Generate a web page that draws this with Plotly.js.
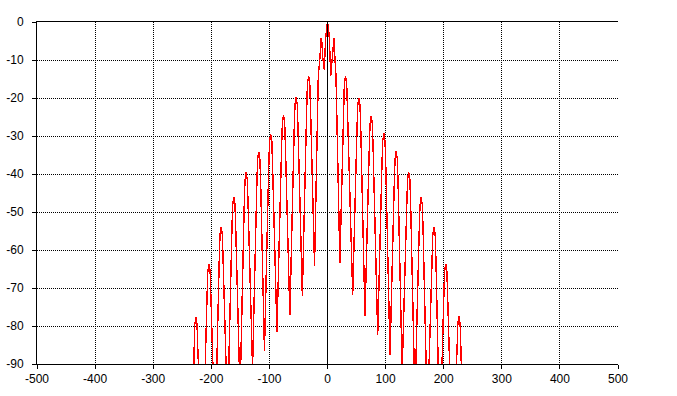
<!DOCTYPE html>
<html>
<head>
<meta charset="utf-8">
<script src="https://cdn.plot.ly/plotly-3.0.1.min.js"></script>
<style>
html,body{margin:0;padding:0;background:#fff;}
#chart{width:677px;height:396px;}
#chart .scatterlayer path.js-line{shape-rendering:crispEdges;}
#chart .gridlayer path, #chart .zerolinelayer path{shape-rendering:crispEdges;}
</style>
</head>
<body>
<div id="chart"></div>
<script>
const xLeft = [
  -236,
  -229.9, -228.5, -226.5, -224.5, -223.1,
  -215,
  -207.4, -206, -204, -202, -200.6,
  -193.5,
  -186.4, -185, -183, -181, -179.6,
  -172,
  -164.6, -163.2, -161.2, -159.2, -157.8,
  -150.5,
  -143.4, -142, -140, -138, -136.6,
  -129,
  -121.7, -120.3, -118.3, -116.3, -114.9,
  -108.5,
  -101.2, -99.8, -97.8, -95.8, -94.4,
  -87,
  -79.1, -77.7, -75.7, -73.7, -72.3,
  -64.8,
  -57.4, -56, -54, -52, -50.6,
  -43.3,
  -35.9, -34.5, -32.5, -30.5, -29.1,
  -22.3
];
const xCenter = [
  -15.8, -13, -11.2, -9.6, -8, -5.5, -3.2, -1.6, 0, 1.6, 3.2, 5.5, 8, 9.6, 11.2, 12.9, 14.6
];
const xRight = [
  21.3,
  27.6, 29, 31, 33, 34.4,
  43.4,
  50.6, 52, 54, 56, 57.4,
  64.5,
  71.8, 73.2, 75.2, 77.2, 78.6,
  86.4,
  93.6, 95, 97, 99, 100.4,
  107.6,
  114.8, 116.2, 118.2, 120.2, 121.6,
  128.5,
  136.4, 137.8, 139.8, 141.8, 143.2,
  150.5,
  157.8, 159.2, 161.2, 163.2, 164.6,
  172,
  179.9, 181.3, 183.3, 185.3, 186.7,
  193.5,
  200.1, 201.5, 203.5, 205.5, 206.9,
  215,
  222.9, 224.3, 226.3, 228.3, 229.7,
  236
];

// Level in dB at each of those positions
const dbLeft = [
  -128,
  -86.7, -79.7, -77.7, -79.7, -86.7,
  -116,
  -72.7, -65.7, -63.7, -65.7, -72.7,
  -110,
  -62.9, -55.9, -53.9, -55.9, -62.9,
  -104,
  -55.1, -48.1, -46.1, -48.1, -55.1,
  -98,
  -48.6, -41.6, -39.6, -41.6, -48.6,
  -91,
  -43.2, -36.2, -34.2, -36.2, -43.2,
  -86.5,
  -38.5, -31.5, -29.5, -31.5, -38.5,
  -81.5,
  -33.5, -26.5, -24.5, -26.5, -33.5,
  -77.2,
  -28.8, -21.8, -19.8, -21.8, -28.8,
  -72,
  -23.2, -16.2, -14.2, -16.2, -23.2,
  -64.2
];
const dbCenter = [
  -14, -9.5, -4.3, -5.5, -9.6, -12.5, -4.3, -1.5, 0, -1.5, -4.3, -14.3, -9.6, -5.5, -4.2, -9.9, -14
];
const dbRight = [
  -63.3,
  -23.2, -16.2, -14.2, -16.2, -23.2,
  -71.8,
  -29, -22, -20, -22, -29,
  -77.4,
  -33.8, -26.8, -24.8, -26.8, -33.8,
  -82.4,
  -38.3, -31.3, -29.3, -31.3, -38.3,
  -87.5,
  -43.1, -36.1, -34.1, -36.1, -43.1,
  -92,
  -48.5, -41.5, -39.5, -41.5, -48.5,
  -99,
  -55.2, -48.2, -46.2, -48.2, -55.2,
  -105,
  -62.9, -55.9, -53.9, -55.9, -62.9,
  -111,
  -72.7, -65.7, -63.7, -65.7, -72.7,
  -116,
  -86.5, -79.5, -77.5, -79.5, -86.5,
  -128
];

// Tick values and labels
const xTickVals = [-500, -400, -300, -200, -100, 0, 100, 200, 300, 400, 500];
const xTickText = ["-500", "-400", "-300", "-200", "-100", "0", "100", "200", "300", "400", "500"];
const yTickVals = [0, -10, -20, -30, -40, -50, -60, -70, -80, -90];
const yTickText = ["0", "-10", "-20", "-30", "-40", "-50", "-60", "-70", "-80", "-90"];

const xs = xLeft.concat(xCenter, xRight);
const ys = dbLeft.concat(dbCenter, dbRight);

const trace = {
  x: xs,
  y: ys,
  type: "scatter",
  mode: "lines",
  line: {color: "#ff0000", width: 1.4},
  hoverinfo: "skip"
};

const font = {family: "Liberation Sans, Arial, sans-serif", size: 12, color: "#000"};

const layout = {
  width: 677,
  height: 396,
  margin: {l: 37, r: 59, t: 22, b: 32, pad: 0},
  paper_bgcolor: "#ffffff",
  plot_bgcolor: "#ffffff",
  showlegend: false,
  font: font,
  xaxis: {
    range: [-500, 500],
    tickmode: "array",
    tickvals: xTickVals,
    ticktext: xTickText,
    showgrid: true,
    gridcolor: "#000000",
    gridwidth: 1,
    griddash: "1px,1px",
    zeroline: true,
    zerolinecolor: "#000000",
    zerolinewidth: 1,
    zerolinelayer: "above traces",
    showline: true,
    linecolor: "#000000",
    linewidth: 1,
    mirror: true,
    ticks: "outside",
    ticklen: 4,
    tickwidth: 1,
    tickcolor: "#000000",
    tickfont: font,
    fixedrange: true
  },
  yaxis: {
    range: [-90, 0],
    tickmode: "array",
    tickvals: yTickVals,
    ticktext: yTickText,
    showgrid: true,
    gridcolor: "#000000",
    gridwidth: 1,
    griddash: "1px,1px",
    zeroline: false,
    showline: true,
    linecolor: "#000000",
    linewidth: 1,
    mirror: false,
    ticks: "outside",
    ticklen: 4,
    tickwidth: 1,
    tickcolor: "#000000",
    tickfont: font,
    ticklabelstandoff: 6,
    fixedrange: true
  }
};

Plotly.newPlot("chart", [trace], layout, {staticPlot: true, displayModeBar: false});
</script>
</body>
</html>
